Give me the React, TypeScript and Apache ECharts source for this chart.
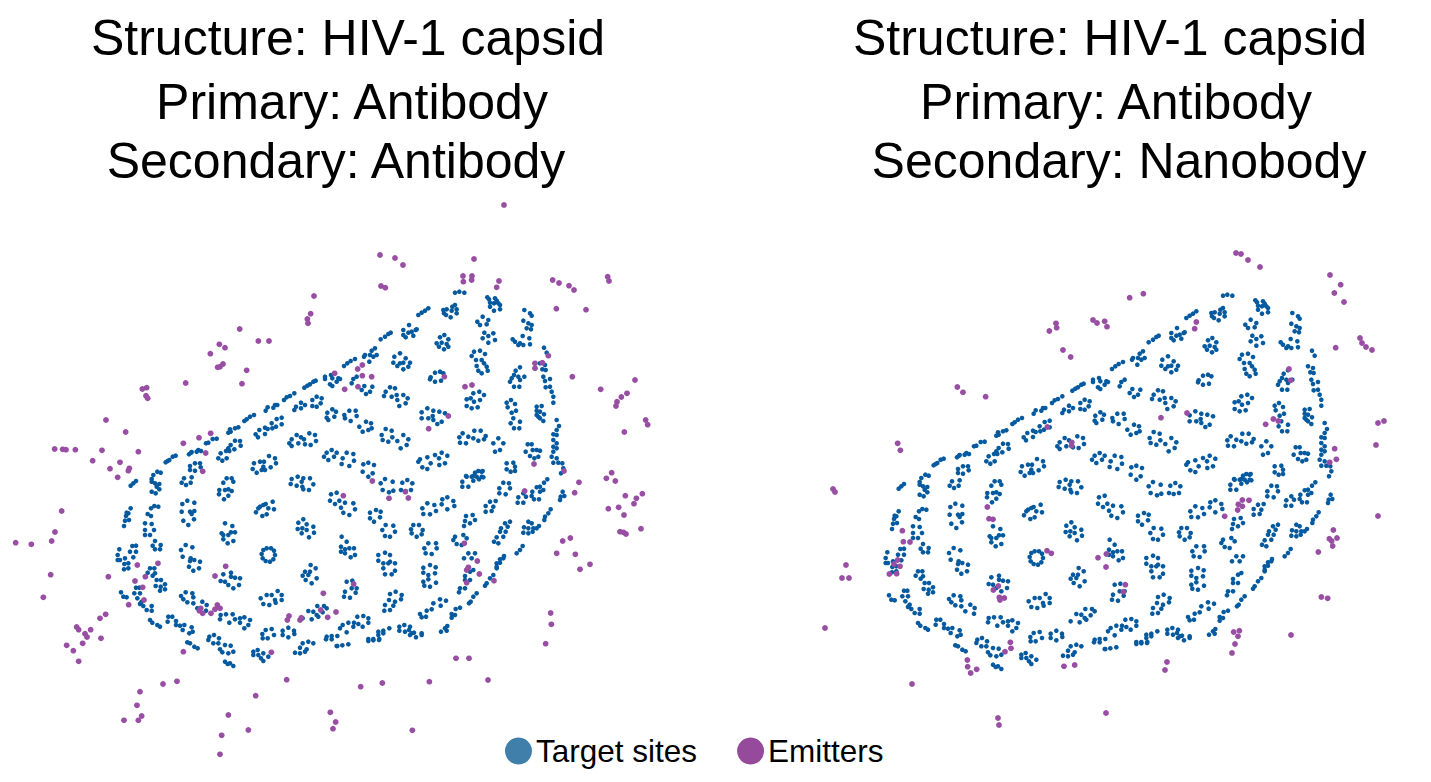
import React, { useEffect, useRef } from "react";
import * as echarts from "echarts";

type P = number[];
// Readings in thirds of a pixel, grouped by the picture region they were read from.
const sitesNW: P[] = [[155,597],[160,585],[172,575],[182,578],[197,547],[203,543],[208,540],[218,530],[227,527],[267,523],[273,518],[275,516],[290,515],[295,510],[303,513],[318,490],[325,488],[338,477],[350,476],[385,458],[392,455],[390,448],[405,445],[415,442],[433,423],[440,418],[450,410],[462,405],[497,392],[503,382],[520,383],[525,375],[532,375],[552,360],[560,352],[570,348],[583,340],[613,323],[622,317],[630,313],[640,305],[647,302],[675,297],[675,290],[693,285],[697,295],[690,313],[697,318],[710,305],[715,295],[270,558],[285,550],[300,550],[270,570],[285,572],[302,562],[252,595],[275,592],[355,535],[367,542],[380,535],[362,520],[378,513],[388,513],[385,505],[403,508],[392,495],[405,482],[420,483],[422,497],[467,463],[478,450],[495,443],[495,462],[503,447],[515,430],[517,445],[528,440],[530,417],[545,413],[545,433],[474,472],[583,390],[588,380],[603,368],[615,375],[603,385],[637,360],[650,350],[665,355],[662,370],[650,380],[637,378],[682,398],[697,388],[708,395],[680,413],[685,420],[703,410],[575,478],[590,465],[603,472],[568,490],[575,498],[595,490],[615,493],[612,478],[628,460],[645,465],[648,483],[632,495],[672,530],[680,518],[695,510],[710,518],[702,530],[685,540],[458,567],[470,578],[462,550],[480,545],[492,545],[490,560],[485,570],[507,528],[525,535],[528,550],[512,562],[495,570],[380,595],[395,595],[575,597],[593,590],[610,595],[630,595]];
const sitesNE: P[] = [[345,38],[358,35],[373,38],[442,52],[447,58],[450,68],[465,55],[480,75],[462,70],[475,70],[480,88],[462,92],[450,80],[470,62],[553,90],[570,100],[575,107],[550,122],[565,130],[575,135],[560,145],[573,148],[235,105],[245,98],[255,92],[265,85],[310,90],[312,100],[320,88],[337,80],[345,75],[350,88],[350,100],[335,92],[332,112],[318,105],[412,125],[428,110],[445,120],[420,135],[440,133],[122,178],[135,170],[145,162],[152,158],[190,150],[207,135],[227,150],[190,165],[205,158],[215,155],[220,167],[197,172],[230,148],[433,158],[460,160],[428,175],[445,168],[465,180],[445,188],[518,178],[525,185],[548,168],[568,175],[540,190],[550,195],[570,193],[535,195],[313,165],[300,172],[325,178],[290,190],[305,188],[320,192],[297,200],[312,208],[325,200],[75,225],[72,230],[95,212],[105,205],[90,225],[100,230],[110,225],[88,245],[612,203],[620,218],[12,258],[22,250],[32,243],[45,237],[163,230],[180,220],[197,235],[160,248],[180,250],[190,248],[210,248],[172,258],[190,268],[205,260],[395,228],[402,215],[420,212],[435,222],[408,240],[425,240],[432,250],[410,258],[440,260],[415,272],[443,272],[425,280],[540,262],[527,272],[522,285],[535,290],[553,290],[515,295],[510,305],[522,320],[538,320],[540,300],[600,250],[615,255],[607,268],[617,270],[610,290],[630,297],[615,303],[630,320],[617,322],[635,335],[640,350],[640,368],[272,292],[285,278],[300,275],[270,298],[285,305],[310,280],[303,302],[0,297],[40,297],[50,290],[35,310],[73,318],[97,320],[65,330],[90,335],[78,342],[150,322],[165,325],[137,335],[132,348],[155,350],[170,345],[172,360],[190,345],[203,355],[178,378],[197,370],[400,340],[418,335],[432,345],[392,355],[380,358],[420,360],[402,365],[380,378],[395,385],[413,382],[513,360],[500,368],[525,372],[503,382],[528,392],[515,398],[590,380],[605,378],[590,392],[600,395],[590,405],[612,403],[600,415],[610,423],[595,410],[650,420],[657,438],[650,450],[640,463],[650,465],[520,415],[512,430],[540,425],[522,445],[538,445],[28,392],[47,392],[13,405],[50,408],[32,423],[15,415],[262,385],[245,397],[245,415],[265,415],[280,392],[278,408],[298,395],[315,400],[280,420],[305,425],[292,432],[78,425],[93,430],[58,440],[95,445],[68,455],[85,450],[137,447],[155,452],[125,465],[157,472],[128,480],[145,485],[190,465],[205,478],[172,483],[200,495],[182,505],[368,460],[403,452],[422,452],[358,472],[385,470],[400,475],[437,468],[360,488],[378,490],[415,482],[432,478],[475,475],[490,490],[460,490],[480,510],[465,515],[563,493],[575,493],[557,515],[578,510],[590,510],[600,512],[570,528],[595,530],[583,535],[640,480],[650,490],[640,500],[650,505],[640,515],[635,530],[650,535],[640,548],[655,548],[667,550],[670,565],[663,580],[20,518],[40,522],[8,535],[42,542],[28,558],[5,552],[70,553],[85,548],[102,555],[68,575],[98,580],[85,590],[240,538],[262,532],[285,525],[305,518],[322,527],[235,545],[247,562],[262,567],[272,550],[297,535],[298,555],[315,550],[500,550],[520,548],[525,560],[500,568],[512,575],[525,573],[405,578],[425,575],[380,590],[395,590],[410,590],[425,590]];
const sitesSW: P[] = [[92,17],[100,10],[108,3],[155,5],[165,10],[178,12],[155,35],[167,40],[178,28],[170,20],[245,8],[258,15],[272,8],[358,30],[370,8],[385,28],[395,33],[357,43],[372,58],[385,47],[375,30],[400,5],[572,12],[590,17],[605,5],[607,20],[610,28],[627,30],[640,13],[693,43],[710,38],[690,62],[705,72],[718,62],[92,85],[85,100],[78,108],[75,122],[87,120],[72,138],[80,98],[163,78],[175,80],[153,85],[143,102],[153,108],[262,62],[247,72],[283,68],[245,95],[250,122],[270,95],[275,102],[283,93],[282,118],[265,135],[497,72],[490,75],[475,85],[468,97],[487,108],[500,103],[518,65],[522,88],[505,85],[480,80],[610,118],[595,128],[593,147],[620,133],[640,140],[605,160],[627,172],[642,158],[620,150],[607,145],[135,130],[155,132],[135,150],[162,150],[150,165],[135,165],[165,183],[182,195],[158,197],[165,208],[180,208],[257,195],[277,202],[243,210],[248,230],[272,235],[270,243],[283,240],[300,245],[267,260],[280,272],[297,265],[375,130],[397,138],[365,160],[370,165],[385,165],[405,157],[393,157],[370,178],[383,190],[400,183],[58,208],[97,198],[108,197],[90,215],[108,215],[53,225],[60,240],[75,235],[100,232],[85,250],[73,252],[53,240],[72,268],[85,265],[490,210],[500,205],[513,205],[522,212],[525,225],[520,238],[510,245],[497,243],[488,235],[485,222],[632,255],[615,275],[630,275],[647,265],[625,285],[608,287],[650,295],[617,300],[635,310],[150,265],[163,265],[143,278],[158,287],[165,280],[170,300],[183,300],[195,313],[182,320],[167,318],[195,328],[180,332],[108,323],[118,323],[103,340],[120,340],[112,355],[125,365],[120,372],[63,337],[70,350],[80,352],[122,370],[130,378],[155,378],[140,390],[155,392],[257,337],[277,340],[243,348],[250,358],[262,367],[280,352],[370,283],[393,278],[362,303],[375,305],[393,290],[405,293],[420,295],[385,315],[400,325],[417,315],[482,355],[500,345],[515,345],[533,333],[545,345],[490,372],[508,375],[525,360],[527,368],[545,360],[280,370],[307,365],[320,375],[292,385],[318,392],[362,405],[378,403],[398,403],[360,418],[388,428],[405,418],[420,415],[433,412],[450,420],[420,428],[445,435],[433,445],[205,410],[217,410],[203,425],[228,423],[228,435],[240,437],[253,435],[248,450],[275,442],[268,460],[278,455],[150,420],[157,428],[172,435],[180,440],[625,393],[640,395],[652,378],[672,378],[680,385],[608,415],[635,418],[650,405],[668,397],[655,410],[497,450],[515,447],[522,465],[487,462],[503,475],[488,475],[548,452],[565,443],[582,452],[548,465],[565,472],[583,462],[680,470],[695,468],[712,468],[678,478],[695,478],[712,498],[262,487],[270,490],[283,500],[293,505],[328,470],[342,465],[357,475],[325,480],[340,490],[355,490],[375,495],[392,497],[400,515],[360,508],[367,517],[385,520],[608,490],[625,485],[640,490],[600,503],[620,508],[585,518],[600,520],[615,515],[460,515],[473,510],[490,520],[460,525],[483,535],[505,530],[490,543],[475,525],[375,545],[390,550],[400,558],[383,552]];
const sitesSE: P[] = [[367,125],[378,108],[400,108],[415,93],[428,93],[430,112],[417,118],[400,122],[367,140],[385,140],[122,130],[135,117],[158,125],[128,150],[160,152],[147,157],[187,128],[202,120],[217,130],[183,150],[197,153],[213,150],[622,118],[612,128],[600,140],[590,142],[610,150],[577,155],[600,155],[575,168],[597,178],[582,178],[490,128],[507,130],[478,145],[510,145],[478,160],[497,163],[550,160],[535,172],[558,170],[533,188],[550,188],[668,155],[662,170],[673,168],[660,180],[15,188],[40,190],[3,203],[45,208],[10,218],[28,225],[262,190],[283,195],[247,205],[288,213],[250,222],[270,223],[307,178],[322,172],[340,183],[305,193],[343,198],[322,208],[467,183],[450,185],[437,198],[460,200],[437,215],[455,213],[108,210],[122,215],[90,218],[120,232],[90,235],[102,245],[632,208],[625,220],[615,230],[613,240],[378,228],[398,225],[405,240],[375,243],[390,250],[372,258],[137,255],[160,257],[127,270],[165,275],[135,288],[150,290],[220,255],[237,255],[213,268],[248,270],[215,280],[230,290],[245,283],[510,245],[495,250],[483,265],[503,260],[480,275],[497,275],[470,292],[490,290],[462,305],[475,310],[565,245],[575,250],[552,262],[565,265],[580,265],[597,258],[550,278],[565,280],[578,275],[590,265],[548,318],[540,330],[530,340],[345,290],[370,285],[340,300],[380,295],[350,312],[365,315],[265,310],[288,310],[253,325],[290,325],[257,340],[275,342],[385,340],[405,340],[372,355],[395,355],[492,348],[480,358],[470,370],[490,355],[470,380],[480,368],[470,385],[135,338],[115,345],[150,345],[115,362],[150,365],[130,370],[145,370],[165,370],[130,385],[165,392],[155,403],[135,403],[270,375],[250,383],[287,382],[250,398],[285,400],[265,405],[265,418],[250,425],[288,428],[270,440],[253,437],[375,408],[390,395],[400,390],[390,420],[375,420],[460,405],[450,415],[440,430],[435,437],[410,460],[400,470],[392,485],[387,490],[375,445],[360,445],[357,457],[37,422],[20,425],[50,445],[15,455],[35,445],[12,470],[30,473],[47,458],[167,455],[150,462],[185,465],[147,480],[165,485],[183,478],[160,497],[135,495],[150,510],[133,512],[318,482],[300,478],[280,490],[302,497],[275,508],[260,512],[240,522],[258,530],[245,532],[360,503],[347,507],[335,522],[345,525],[335,533],[322,558],[315,565],[303,575],[320,572],[0,565],[8,555],[25,548],[42,548],[55,552],[70,528],[85,535],[52,530],[85,548],[68,560],[40,560],[20,577],[115,575],[130,572],[148,565],[115,585],[130,580],[100,597],[85,597],[118,597],[178,560],[193,555],[210,560],[178,572],[207,570],[195,575],[222,578],[245,580],[210,585],[228,592],[245,585],[215,580],[5,290],[20,305],[3,320],[15,328],[28,325],[42,325],[15,340],[45,345],[32,352],[3,335]];
const sitesBottom: P[] = [[680,78],[697,76],[715,73],[775,63],[790,61],[807,60]];

const emittersLeftNW: P[] = [[642,48],[632,101],[622,117],[624,130],[419,147],[475,183],[507,183],[358,193],[375,203],[331,221],[369,252],[360,260],[353,262],[440,271],[426,311],[257,309],[704,280],[127,327],[140,323],[138,347],[143,355],[18,420],[77,456],[332,460],[297,473],[250,490],[6,511],[115,515],[317,519],[60,547],[30,566],[88,565],[85,572],[308,574],[53,592]];
const emittersLeftNE: P[] = [[123,18],[136,23],[370,5],[395,0],[470,22],[477,3],[638,0],[657,9],[687,17],[702,30],[649,86],[625,227],[585,250],[585,265],[607,248],[53,267],[67,255],[67,287],[95,290],[313,290],[54,320],[14,328],[697,290],[375,320],[396,315],[325,408],[266,446],[672,573],[582,552]];
const emittersLeftSW: P[] = [[112,255],[174,250],[25,290],[136,290],[105,303],[128,322],[132,360],[86,374],[17,403],[0,415],[3,475],[377,259],[345,288],[302,385],[298,392],[308,400],[333,400],[345,388],[352,375],[360,385],[670,340],[662,390],[708,396],[683,412],[567,408],[562,420],[604,413],[600,420],[514,517],[250,515]];
const emittersLeftSE: P[] = [[97,123],[147,175],[196,155],[205,174],[10,167],[717,127],[704,158],[554,153],[668,303],[691,294],[650,340],[706,343],[720,388],[373,310],[412,363],[385,382],[380,390],[418,402],[380,428],[462,422],[41,432],[632,519],[634,553]];
const emittersLeftFar: P[] = [[164,57],[188,58],[198,59],[226,59],[278,92],[185,243],[165,306],[155,333],[47,338],[94,343],[152,434],[130,502],[230,591],[236,599],[272,599],[255,611],[261,621],[248,640],[200,646],[220,662],[236,694]];
const emittersLeftLow: P[] = [[1307,71],[1038,115],[1077,115],[159,192],[201,184],[90,215],[81,256],[95,288],[85,301],[42,301],[530,179],[437,227],[355,285],[415,330],[335,346],[330,403],[752,200],[817,189],[958,185],[1134,180],[661,277],[677,306],[669,326],[907,331]];
const emittersLeftEast: P[] = [[113,50],[117,63],[48,149],[195,360],[92,388],[171,400],[154,411],[141,425],[138,438],[227,480],[233,494],[163,516],[125,638],[109,655],[136,663],[166,707],[217,701],[199,715],[192,731],[115,746],[146,742],[162,765],[150,815],[160,817],[168,822],[213,806],[60,913]];
const emittersLeftTop: P[] = [[504,205],[380,255],[395,258],[403,265],[474,259],[463,276],[472,276]];

const emittersRightNW: P[] = [[83,490],[91,511],[262,321],[279,337],[347,350],[538,153],[558,130],[560,143],[579,210],[602,231],[669,120],[681,129],[704,124],[711,140],[532,441],[605,487],[605,497]];
const emittersRightNE: P[] = [[59,53],[100,41],[259,126],[254,146],[692,14],[673,39],[702,66],[677,203],[537,267],[542,301],[231,399],[153,413],[490,417],[505,423],[467,433],[674,506],[679,538],[659,547]];
const emittersRightSW: P[] = [[97,152],[100,185],[120,186],[352,81],[357,116],[369,118],[531,212],[544,220],[684,233],[709,222],[708,261],[83,240],[72,252],[90,259],[58,282],[80,281],[385,318],[370,330],[388,352],[403,354],[390,360],[421,487],[423,505],[405,515],[292,540],[293,560],[320,568],[302,579],[582,559],[614,555]];
const emittersRightSE: P[] = [[385,193],[397,180],[417,181],[397,199],[383,210],[344,229],[670,270],[658,296],[681,294],[665,303],[668,318],[625,336],[46,434],[40,455],[634,471],[653,475],[371,576],[388,572],[384,589],[543,585]];
const emittersRightOuter: P[] = [[1330,275],[1236,253],[1241,254],[1248,260],[1260,267],[1360,338],[1362,343],[1366,347],[1372,350],[1384,421],[1378,423],[1376,445],[1378,516],[1235,644],[1232,653],[1167,662],[1165,670],[1106,713],[998,718],[999,725],[912,684],[825,628],[846,565],[842,578],[849,578],[833,489],[835,492]];

const titlesLeft = ["Structure: HIV-1 capsid", "Primary: Antibody", "Secondary: Antibody"];
const titlesRight = ["Structure: HIV-1 capsid", "Primary: Antibody", "Secondary: Nanobody"];
const legendNames = ["Target sites", "Emitters"];

const thirds = (list: P[], x0: number, y0: number): P[] => list.map(([x, y]) => [x0 + x / 3, y0 + y / 3]);
const sites: P[] = [...thirds(sitesNW, 100, 280), ...thirds(sitesNE, 340, 280), ...thirds(sitesSW, 100, 480), ...thirds(sitesSE, 340, 440), ...thirds(sitesBottom, 110, 620)];
const emittersLeft: P[] = [...thirds(emittersLeftNW, 100, 280), ...thirds(emittersLeftNE, 340, 280), ...thirds(emittersLeftSW, 100, 480), ...thirds(emittersLeftSE, 340, 440), ...thirds(emittersLeftFar, 0, 430), ...thirds(emittersLeftLow, 110, 620), ...thirds(emittersLeftEast, 570, 260), ...emittersLeftTop];
const PANEL_DX = 768;
const PANEL_DY = 3;
const emittersRight: P[] = [...thirds(emittersRightNW, 870 - PANEL_DX, 280 - PANEL_DY), ...thirds(emittersRightNE, 1110 - PANEL_DX, 280 - PANEL_DY), ...thirds(emittersRightSW, 870 - PANEL_DX, 480 - PANEL_DY), ...thirds(emittersRightSE, 1110 - PANEL_DX, 440 - PANEL_DY), ...emittersRightOuter.map(([x, y]) => [x - PANEL_DX, y - PANEL_DY])];

const FONT = '"Liberation Sans", Arial, sans-serif';
const BLUE = "#055a9f";
const PURPLE = "#984ea3";

export default function App() {
  const ref = useRef<HTMLDivElement>(null);
  useEffect(() => {
    document.body.style.margin = "0";
    const chart = echarts.init(ref.current!, undefined, { renderer: "svg" });
    const axisBase = { show: false, type: "value" as const };
    const titleOf = (text: string, cx: number, top: number) => ({
      text, left: cx, top, textAlign: "center" as const, padding: 0,
      textStyle: { fontFamily: FONT, fontSize: 50, fontWeight: "normal" as const, color: "#000" },
    });
    const scatter = (name: string, data: P[], panel: number, color: string, size: number, z: number) => ({
      name, type: "scatter" as const, data, xAxisIndex: panel, yAxisIndex: panel,
      symbol: "circle", symbolSize: size, itemStyle: { color, opacity: 1 }, z, silent: true,
    });
    chart.setOption({
      animation: false,
      backgroundColor: "#fff",
      title: [
        titleOf(titlesLeft[0], 348, 13), titleOf(titlesLeft[1], 352, 77), titleOf(titlesLeft[2], 336, 136),
        titleOf(titlesRight[0], 1110, 13), titleOf(titlesRight[1], 1116, 77), titleOf(titlesRight[2], 1119, 136),
      ],
      legend: {
        left: 505, top: 735, itemGap: 40, itemWidth: 27, itemHeight: 27, padding: 0, selectedMode: false,
        textStyle: { fontFamily: FONT, fontSize: 31.5, color: "#000", padding: [0, 0, 0, -1] },
        data: [
          { name: legendNames[0], icon: "circle", itemStyle: { color: "#3f7faa" } },
          { name: legendNames[1], icon: "circle", itemStyle: { color: "#964a9c" } },
        ],
      },
      grid: [
        { left: 0, top: 0, width: PANEL_DX, height: 782 },
        { left: PANEL_DX, top: PANEL_DY, width: 1431 - PANEL_DX, height: 782 - PANEL_DY },
      ],
      xAxis: [
        { ...axisBase, gridIndex: 0, min: 0, max: PANEL_DX },
        { ...axisBase, gridIndex: 1, min: 0, max: 1431 - PANEL_DX },
      ],
      yAxis: [
        { ...axisBase, gridIndex: 0, min: 0, max: 782, inverse: true },
        { ...axisBase, gridIndex: 1, min: 0, max: 782 - PANEL_DY, inverse: true },
      ],
      series: [
        scatter(legendNames[0], sites, 0, BLUE, 4.6, 2),
        scatter(legendNames[1], emittersLeft, 0, PURPLE, 5.8, 3),
        scatter(legendNames[0], sites, 1, BLUE, 4.6, 2),
        scatter(legendNames[1], emittersRight, 1, PURPLE, 5.8, 3),
      ],
    });
    return () => chart.dispose();
  }, []);
  return <div ref={ref} style={{ width: 1431, height: 782 }} />;
}
